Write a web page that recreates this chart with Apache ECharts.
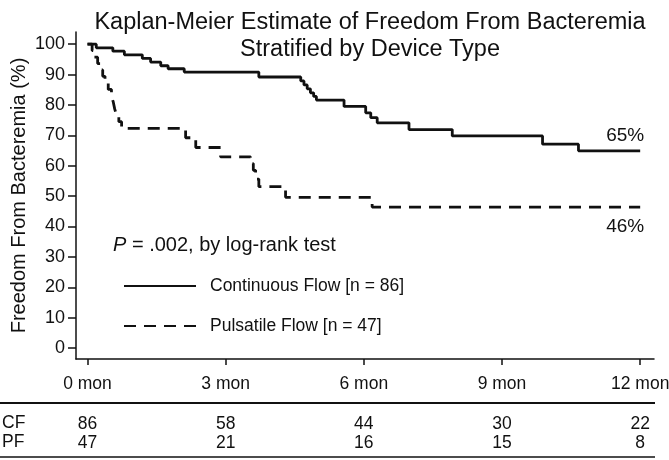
<!DOCTYPE html>
<html>
<head>
<meta charset="utf-8">
<script src="https://cdn.jsdelivr.net/npm/echarts@6/dist/echarts.min.js"></script>
<style>
  html, body { margin: 0; padding: 0; background: #fff; }
  #chart { width: 669px; height: 460px; }
</style>
</head>
<body>
<div id="chart"></div>
<script>
// months after implant, KM survival (%) after each drop
var cfTime = [0, 0.19, 0.55, 0.8, 1.19, 1.37, 1.59, 1.75, 2.1, 3.72, 4.63, 4.7, 4.77, 4.84, 4.91, 4.97, 5.57, 6.04, 6.15, 6.29, 6.98, 7.92, 9.88, 10.66, 12];
var cfSurv = [100, 98.8, 97.7, 96.5, 95.3, 94.1, 92.9, 91.9, 90.8, 89.2, 87.9, 86.6, 85.3, 84.0, 82.8, 81.6, 79.5, 77.4, 75.8, 74.1, 71.9, 69.8, 67.1, 64.9, 64.9];
var pfTime = [0, 0.1, 0.15, 0.22, 0.28, 0.33, 0.38, 0.45, 0.52, 0.56, 0.59, 0.63, 0.68, 0.74, 2.13, 2.35, 2.89, 3.54, 3.6, 3.65, 3.72, 4.3, 6.18, 12];
var pfSurv = [100, 97.9, 95.7, 93.6, 91.5, 89.4, 87.2, 85.1, 83.0, 80.9, 78.7, 76.6, 74.5, 72.3, 69.2, 66.0, 62.9, 60.7, 58.5, 55.6, 53.1, 49.6, 46.4, 46.4];

var months = [0, 3, 6, 9, 12];
var cfAtRisk = [86, 58, 44, 30, 22];
var pfAtRisk = [47, 21, 16, 15, 8];
var yTicks = [0, 10, 20, 30, 40, 50, 60, 70, 80, 90, 100];

var FONT = 'Liberation Sans';
var INK = '#111';

var myChart = echarts.init(document.getElementById('chart'));

function pairs(t, v) {
    var out = [];
    for (var i = 0; i < t.length; i++) out.push([t[i], v[i]]);
    return out;
}

function endMark(t, v, off) {
    var last = v[v.length - 1];
    return {
        symbol: 'circle',
        symbolSize: 0,
        silent: true,
        label: {
            show: true,
            position: 'inside',
            offset: off,
            formatter: Math.round(last) + '%',
            fontFamily: FONT,
            fontSize: 19,
            color: INK
        },
        data: [{ coord: [t[t.length - 1], last] }]
    };
}

// at-risk rows: hidden axes sharing the main x scale
function riskAxis(gridIndex, counts) {
    return {
        type: 'value', gridIndex: gridIndex, position: 'bottom',
        min: -0.25, max: 12.3,
        axisLine: { show: false, onZero: false }, axisTick: { show: false }, splitLine: { show: false },
        axisLabel: {
            customValues: months, margin: 3,
            fontFamily: FONT, fontSize: 17.5, color: INK,
            formatter: function (v) { return String(counts[months.indexOf(v)]); }
        }
    };
}

var option = {
    animation: false,
    backgroundColor: '#fff',
    textStyle: { fontFamily: FONT },
    title: {
        text: 'Kaplan-Meier Estimate of Freedom From Bacteremia\nStratified by Device Type',
        left: 365, top: 4, textAlign: 'center',
        textStyle: { fontFamily: FONT, fontSize: 23.5, fontWeight: 'normal', color: INK, lineHeight: 27 }
    },
    grid: [
        { left: 76, right: 15, top: 32, bottom: 101, containLabel: false, outerBoundsMode: 'none' },
        { left: 76, right: 15, top: 402, height: 10, containLabel: false, outerBoundsMode: 'none' },
        { left: 76, right: 15, top: 421, height: 10, containLabel: false, outerBoundsMode: 'none' }
    ],
    xAxis: [{
        type: 'value', min: -0.25, max: 12.3,
        axisLine: { onZero: false, lineStyle: { color: INK, width: 1.5 } },
        axisTick: { customValues: months, length: 6, lineStyle: { color: INK, width: 1.5 } },
        axisLabel: {
            customValues: months, margin: 16,
            fontFamily: FONT, fontSize: 17.5, color: INK,
            formatter: function (v) { return v + ' mon'; }
        },
        splitLine: { show: false }
    }, riskAxis(1, cfAtRisk), riskAxis(2, pfAtRisk)],
    yAxis: [{
        type: 'value', min: -3.6, max: 104,
        name: 'Freedom From Bacteremia (%)', nameLocation: 'middle', nameGap: 47,
        nameMoveOverlap: false,
        nameTextStyle: { fontFamily: FONT, fontSize: 20, color: INK },
        axisLine: { show: true, onZero: false, lineStyle: { color: INK, width: 1.5 } },
        axisTick: { show: true, customValues: yTicks, length: 8, lineStyle: { color: INK, width: 1.5 } },
        axisLabel: { customValues: yTicks, margin: 11, fontFamily: FONT, fontSize: 18, color: INK },
        splitLine: { show: false }
    },
    { gridIndex: 1, show: false, type: 'value' },
    { gridIndex: 2, show: false, type: 'value' }],
    legend: {
        orient: 'vertical', left: 118, top: 272,
        itemWidth: 72, itemHeight: 20, itemGap: 22,
        selectedMode: false,
        itemStyle: { opacity: 0 },
        textStyle: { fontFamily: FONT, fontSize: 17.5, color: INK, padding: [0, 0, 0, 9] },
        data: ['Continuous Flow [n = 86]', 'Pulsatile Flow [n = 47]']
    },
    series: [{
        name: 'Continuous Flow [n = 86]',
        type: 'line', step: 'end', symbol: 'none', showSymbol: false,
        lineStyle: { color: INK, width: 2.8 },
        itemStyle: { color: INK },
        data: pairs(cfTime, cfSurv),
        markPoint: endMark(cfTime, cfSurv, [-15, -15])
    }, {
        name: 'Pulsatile Flow [n = 47]',
        type: 'line', step: 'end', symbol: 'none', showSymbol: false,
        lineStyle: { color: INK, width: 2.8, type: [12, 8] },
        itemStyle: { color: INK },
        data: pairs(pfTime, pfSurv),
        markPoint: endMark(pfTime, pfSurv, [-15, 20])
    }],
    graphic: [{
        type: 'text', left: 113, top: 235,
        style: {
            text: '{i|P} = .002, by log-rank test',
            fontFamily: FONT, fontSize: 20, fill: INK,
            rich: { i: { fontStyle: 'italic', fontFamily: FONT, fontSize: 20, fill: INK } }
        }
    }, {
        type: 'text', left: 2, top: 414,
        style: { text: 'CF', fontFamily: FONT, fontSize: 17.5, fill: INK }
    }, {
        type: 'text', left: 2, top: 433,
        style: { text: 'PF', fontFamily: FONT, fontSize: 17.5, fill: INK }
    }, {
        type: 'line',
        shape: { x1: 0, y1: 403, x2: 655, y2: 403 },
        style: { stroke: INK, lineWidth: 2 }
    }, {
        type: 'line',
        shape: { x1: 0, y1: 457, x2: 655, y2: 457 },
        style: { stroke: INK, lineWidth: 1.5 }
    }]
};

myChart.setOption(option);
</script>
</body>
</html>
